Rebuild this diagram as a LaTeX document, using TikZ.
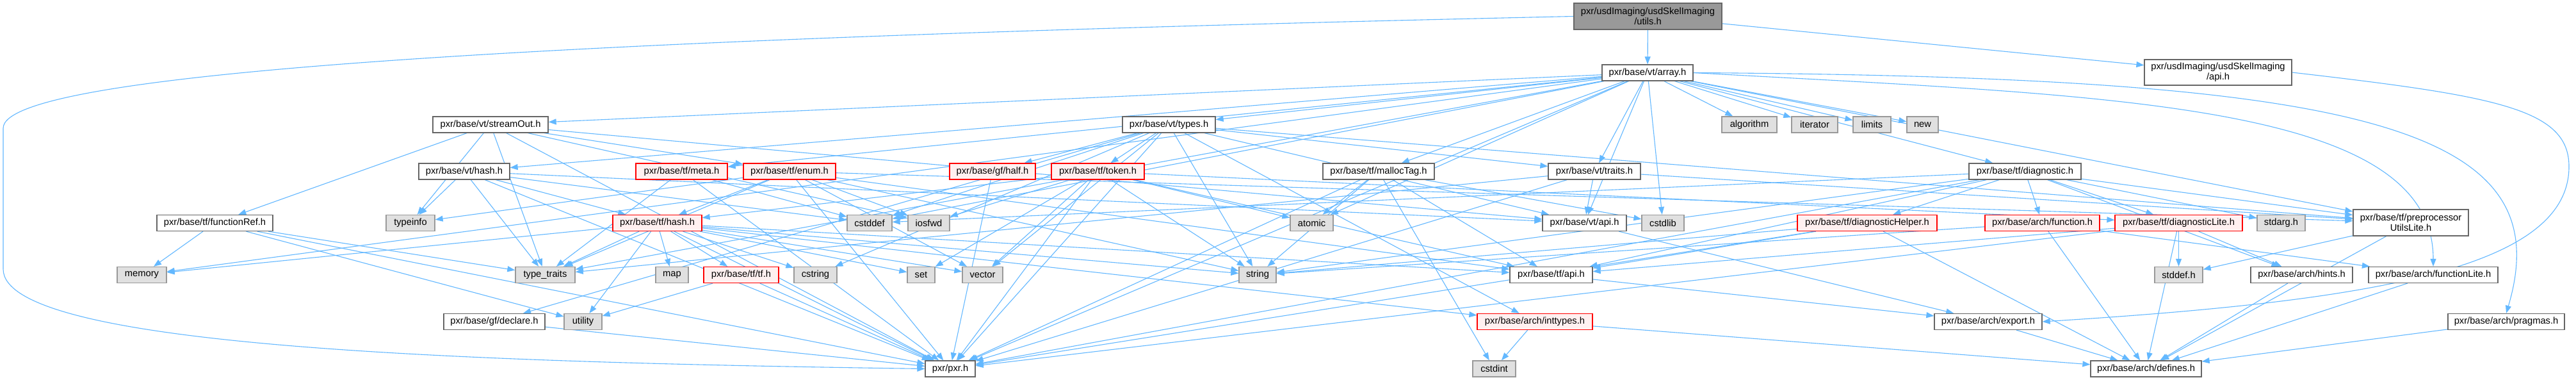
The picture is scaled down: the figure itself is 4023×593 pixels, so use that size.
\documentclass[tikz,border=0pt]{standalone}
\usepackage{fontspec}
\setmainfont{Liberation Sans}
\usetikzlibrary{arrows.meta, backgrounds}

\definecolor{edgeblue}{HTML}{63B8FF}
\definecolor{boxgray}{HTML}{666666}
\definecolor{sysfill}{HTML}{E0E0E0}
\definecolor{sysline}{HTML}{999999}
\definecolor{cutfill}{HTML}{FFF0F0}
\definecolor{rootfill}{HTML}{999999}

\tikzset{
  hdr/.style = {draw = boxgray, fill = white, line width = 1.3pt, inner sep = 0pt,
                minimum height = 25pt, align = center,
                font = \fontsize{14.7}{16}\selectfont},
  sysh/.style = {hdr, draw = sysline, fill = sysfill},
  cuth/.style = {hdr, draw = red, fill = cutfill},
  rooth/.style = {hdr, fill = rootfill, minimum height = 41pt},
  dep/.style = {draw = edgeblue, line width = 1.1pt,
                -{Triangle[length = 12pt, width = 9pt]}}
}

\begin{document}
\begin{tikzpicture}[x = 1pt, y = -1pt, every edge/.style = {dep}]
  \useasboundingbox (0, 0) rectangle (4023, 593);

  \node[rooth, minimum width = 231pt] (root) at (2573.5, 25.5) {pxr/usdImaging/usdSkelImaging\\/utils.h};
  \node[hdr, minimum width = 142pt] (array) at (2573, 113.5) {pxr/base/vt/array.h};
  \node[hdr, minimum width = 230pt, minimum height = 40pt] (skelapi) at (3464, 113) {pxr/usdImaging/usdSkelImaging\\/api.h};

  \node[hdr, minimum width = 180pt] (streamout) at (766, 194.5) {pxr/base/vt/streamOut.h};
  \node[hdr, minimum width = 145pt] (types) at (1825.5, 194.5) {pxr/base/vt/types.h};
  \node[sysh, minimum width = 86pt] (algorithm) at (2732, 194.5) {algorithm};
  \node[sysh, minimum width = 72pt] (iterator) at (2834, 194.5) {iterator};
  \node[sysh, minimum width = 59pt] (limits) at (2923.5, 194.5) {limits};
  \node[sysh, minimum width = 49pt] (new) at (3002.5, 194.5) {new};

  \node[hdr, minimum width = 142pt] (vthash) at (725, 267.5) {pxr/base/vt/hash.h};
  \node[cuth, minimum width = 143pt] (meta) at (1064.5, 267.5) {pxr/base/tf/meta.h};
  \node[cuth, minimum width = 144pt] (enum) at (1233, 267.5) {pxr/base/tf/enum.h};
  \node[cuth, minimum width = 134pt] (half) at (1550, 267.5) {pxr/base/gf/half.h};
  \node[cuth, minimum width = 145pt] (token) at (1714.5, 267.5) {pxr/base/tf/token.h};
  \node[hdr, minimum width = 174pt] (malloctag) at (2153, 267.5) {pxr/base/tf/mallocTag.h};
  \node[hdr, minimum width = 144pt] (vttraits) at (2490, 267.5) {pxr/base/vt/traits.h};
  \node[hdr, minimum width = 175pt] (diagnostic) at (3162.5, 267.5) {pxr/base/tf/diagnostic.h};

  \node[hdr, minimum width = 181pt] (functionref) at (335.5, 348) {pxr/base/tf/functionRef.h};
  \node[sysh, minimum width = 76pt] (typeinfo) at (641, 348) {typeinfo};
  \node[cuth, minimum width = 139pt] (tfhash) at (1026.5, 348) {pxr/base/tf/hash.h};
  \node[sysh, minimum width = 70pt] (cstddef) at (1358, 348) {cstddef};
  \node[sysh, minimum width = 65pt] (iosfwd) at (1450.5, 348) {iosfwd};
  \node[sysh, minimum width = 67pt] (atomic) at (2048.5, 348) {atomic};
  \node[hdr, minimum width = 131pt] (vtapi) at (2474.5, 348) {pxr/base/vt/api.h};
  \node[sysh, minimum width = 66pt] (cstdlib) at (2597, 348) {cstdlib};
  \node[cuth, minimum width = 218pt] (diaghelper) at (2916, 348) {pxr/base/tf/diagnosticHelper.h};
  \node[cuth, minimum width = 179pt] (archfunction) at (3189.5, 348) {pxr/base/arch/function.h};
  \node[cuth, minimum width = 199pt] (diaglite) at (3402.5, 348) {pxr/base/tf/diagnosticLite.h};
  \node[sysh, minimum width = 75pt] (stdarg) at (3562.5, 348) {stdarg.h};
  \node[hdr, minimum width = 180pt, minimum height = 41pt] (prepro) at (3765, 347.5) {pxr/base/tf/preprocessor\\UtilsLite.h};

  \node[sysh, minimum width = 77pt] (memory) at (221.5, 429) {memory};
  \node[sysh, minimum width = 93pt] (typetraits) at (851.5, 429) {type\_traits};
  \node[sysh, minimum width = 51pt] (map) at (1049.5, 429) {map};
  \node[cuth, minimum width = 117pt] (tftf) at (1157.5, 429) {pxr/base/tf/tf.h};
  \node[sysh, minimum width = 67pt] (cstring) at (1273.5, 429) {cstring};
  \node[sysh, minimum width = 43pt] (set) at (1438.5, 429) {set};
  \node[sysh, minimum width = 63pt] (vector) at (1534.5, 429) {vector};
  \node[sysh, minimum width = 58pt] (string) at (1964, 429) {string};
  \node[hdr, minimum width = 129pt] (tfapi) at (2422.5, 429) {pxr/base/tf/api.h};
  \node[sysh, minimum width = 75pt] (stddef) at (3402.5, 429) {stddef.h};
  \node[hdr, minimum width = 159pt] (hints) at (3594.5, 429) {pxr/base/arch/hints.h};
  \node[hdr, minimum width = 202pt] (functionlite) at (3800, 429) {pxr/base/arch/functionLite.h};

  \node[hdr, minimum width = 158pt] (declare) at (772, 502) {pxr/base/gf/declare.h};
  \node[sysh, minimum width = 59pt] (utility) at (910.5, 502) {utility};
  \node[cuth, minimum width = 180pt] (inttypes) at (2397, 502) {pxr/base/arch/inttypes.h};
  \node[hdr, minimum width = 168pt] (export) at (3105, 502) {pxr/base/arch/export.h};
  \node[hdr, minimum width = 182pt] (pragmas) at (3914, 502) {pxr/base/arch/pragmas.h};

  \node[hdr, minimum width = 78pt] (pxr) at (1484, 575.5) {pxr/pxr.h};
  \node[sysh, minimum width = 67pt] (cstdint) at (2333.5, 575.5) {cstdint};
  \node[hdr, minimum width = 173pt] (defines) at (3351.5, 575.5) {pxr/base/arch/defines.h};

  \begin{scope}[on background layer]
    \fill[white] (0, 0) rectangle (4023, 593);
    \path (root) edge (array) edge (skelapi);
    \draw[dep] (root.west) .. controls (900, 60) and (5, 110) .. (5, 200)
               -- (5, 420) .. controls (5, 540) and (700, 565) .. (pxr.west);
    \draw[dep] (skelapi.east) .. controls (3900, 150) and (4012, 170) .. (4012, 260)
               .. controls (4012, 420) and (3700, 470) .. (export.east);
    \path (array) edge (streamout) edge (vthash) edge (types) edge (meta) edge (malloctag)
          edge (vttraits) edge (diagnostic) edge (algorithm) edge (iterator) edge (limits)
          edge (new) edge (memory) edge (typetraits) edge (cstddef) edge (atomic)
          edge (vtapi) edge (cstdlib) edge (prepro) edge (pxr);
    \draw[dep] (array.east) .. controls (3300, 150) and (3800, 160) .. (functionlite.north);
    \draw[dep] (array.east) .. controls (3700, 120) and (4000, 200) .. (pragmas.north);
    \path (streamout) edge (pxr) edge (vtapi) edge (enum) edge (functionref)
          edge (iosfwd) edge (typeinfo) edge (typetraits);
    \path (vthash) edge (pxr) edge (vtapi) edge (tfhash) edge (cstddef)
          edge (typeinfo) edge (typetraits);
    \path (types) edge (pxr) edge (vtapi) edge (vttraits) edge (inttypes) edge (declare)
          edge (half) edge (token) edge (prepro) edge (cstddef) edge (cstring)
          edge (string) edge (vector);
    \path (vttraits) edge (pxr) edge (vtapi) edge (prepro) edge (typetraits);
    \path (malloctag) edge (pxr) edge (tfapi) edge (atomic) edge (cstdint)
          edge (cstdlib) edge (string);
    \path (diagnostic) edge (pxr) edge (tfapi) edge (diaglite) edge (diaghelper)
          edge (prepro) edge (archfunction) edge (hints) edge (cstddef)
          edge (stdarg) edge (string);
    \path (functionref) edge (pxr) edge (memory) edge (typetraits) edge (utility);
    \path (tfhash) edge (pxr) edge (tfapi) edge (tftf) edge (map) edge (cstring)
          edge (set) edge (vector) edge (string) edge (memory) edge (typetraits)
          edge (utility) edge (inttypes);
    \path (meta) edge (pxr) edge (cstddef) edge (typetraits);
    \path (enum) edge (pxr) edge (tfapi) edge (prepro) edge (tfhash) edge (string)
          edge (vector) edge (iosfwd) edge (typeinfo) edge (typetraits);
    \path (half) edge (pxr);
    \path (token) edge (pxr) edge (tfapi) edge (diaglite) edge (tfhash) edge (iosfwd)
          edge (string) edge (vector) edge (set) edge (atomic);
    \path (vtapi) edge (export);
    \path (tfapi) edge (export);
    \path (tftf) edge (pxr) edge (utility);
    \path (inttypes) edge (defines) edge (cstdint);
    \path (diaghelper) edge (pxr) edge (tfapi) edge (defines) edge (string);
    \path (archfunction) edge (defines) edge (functionlite) edge (string);
    \path (diaglite) edge (pxr) edge (tfapi) edge (defines) edge (stddef) edge (hints);
    \path (prepro) edge (stddef) edge (defines);
    \path (hints) edge (defines);
    \path (functionlite) edge (defines);
    \path (export) edge (defines);
    \path (pragmas) edge (defines);
    \path (declare) edge (pxr);
  \end{scope}
\end{tikzpicture}
\end{document}
